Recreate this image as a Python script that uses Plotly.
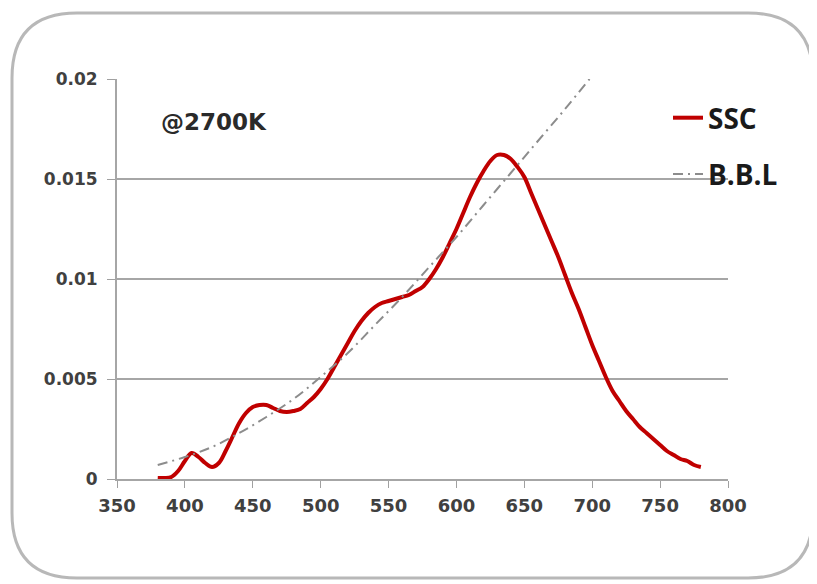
import plotly.graph_objects as go

# ---- data ----
ssc_wavelength = [380, 385, 390, 395, 400, 405, 410, 415, 420, 425, 430, 435, 440, 445,
                  450, 455, 460, 465, 470, 475, 480, 485, 490, 495, 500, 505, 510, 515,
                  520, 525, 530, 535, 540, 545, 550, 555, 560, 565, 570, 575, 580, 585,
                  590, 595, 600, 605, 610, 615, 620, 625, 630, 635, 640, 645, 650, 655,
                  660, 665, 670, 675, 680, 685, 690, 695, 700, 705, 710, 715, 720, 725,
                  730, 735, 740, 745, 750, 755, 760, 765, 770, 775, 780]
ssc_value = [0.00005, 0.00005, 0.0001, 0.0004, 0.0009, 0.0013, 0.0011, 0.0008, 0.0006,
             0.0008, 0.0014, 0.0021, 0.0028, 0.0033, 0.0036, 0.0037, 0.0037, 0.00355,
             0.0034, 0.00335, 0.0034, 0.0035, 0.0038, 0.0041, 0.0045, 0.0050, 0.0056,
             0.0062, 0.0068, 0.0074, 0.0079, 0.0083, 0.0086, 0.0088, 0.0089, 0.0090,
             0.0091, 0.0092, 0.0094, 0.0096, 0.0100, 0.0105, 0.0111, 0.0118, 0.0125,
             0.0133, 0.0141, 0.0148, 0.0154, 0.0159, 0.0162, 0.0162, 0.0160, 0.0156,
             0.0151, 0.0143, 0.0135, 0.0127, 0.0119, 0.0111, 0.0102, 0.0093, 0.0085,
             0.0076, 0.0067, 0.0059, 0.0051, 0.0044, 0.0039, 0.0034, 0.0030, 0.0026,
             0.0023, 0.0020, 0.0017, 0.0014, 0.0012, 0.0010, 0.0009, 0.0007, 0.0006]

bbl_wavelength = [380, 400, 420, 440, 460, 480, 500, 520, 540, 560, 580, 600, 620, 640,
                  660, 680, 698]
bbl_value = [0.0007, 0.0011, 0.0016, 0.0023, 0.0031, 0.0040, 0.0051, 0.0063, 0.0077,
             0.0091, 0.0106, 0.0121, 0.0137, 0.0153, 0.0169, 0.0185, 0.0200]

x_ticks = [350, 400, 450, 500, 550, 600, 650, 700, 750, 800]
y_ticks = [0, 0.005, 0.01, 0.015, 0.02]
y_tick_labels = ["0", "0.005", "0.01", "0.015", "0.02"]

# The page body has an 8px margin, so the figure is drawn 8px in from the corner.
OFF = 8
W, H = 817 - OFF, 584 - OFF
ML, MT = 117 - OFF, 79 - OFF
MR, MB = W - (728 - OFF), H - (479 - OFF)
PW, PH = W - ML - MR, H - MT - MB


def px_x(p):
    return (p - OFF - ML) / PW


def px_y(p):
    return (H - MB - (p - OFF)) / PH


fig = go.Figure()
fig.add_trace(go.Scatter(
    x=ssc_wavelength, y=ssc_value, name="SSC", mode="lines",
    line=dict(color="#c00000", width=4, shape="spline", smoothing=1.0),
    legendgroup="a",
))
fig.add_trace(go.Scatter(
    x=bbl_wavelength, y=bbl_value, name="B.B.L", mode="lines",
    line=dict(color="#8c8c8c", width=2, dash="10px,5px,2px,5px", shape="spline"),
    legendgroup="b",
))

# rounded frame around the whole chart (paper coordinates)
L, R, T, B = px_x(12), px_x(813), px_y(13), px_y(578)
rx, ry = 65 / PW, 65 / PH
path = (f"M {L+rx},{T} L {R-rx},{T} Q {R},{T} {R},{T-ry} L {R},{B+ry} "
        f"Q {R},{B} {R-rx},{B} L {L+rx},{B} Q {L},{B} {L},{B+ry} "
        f"L {L},{T-ry} Q {L},{T} {L+rx},{T} Z")

fig.update_layout(
    width=W, height=H,
    margin=dict(l=ML, r=MR, t=MT, b=MB),
    paper_bgcolor="white", plot_bgcolor="white",
    font=dict(family="DejaVu Sans", color="#404040"),
    shapes=[dict(type="path", path=path, xref="paper", yref="paper",
                 line=dict(color="#b8b8b8", width=3), layer="below")],
    annotations=[dict(text="<b>@2700K</b>", x=px_x(159), y=px_y(122),
                      xref="paper", yref="paper", xanchor="left", yanchor="middle",
                      showarrow=False, font=dict(size=23, color="#2a2a2a",
                                                 family="DejaVu Sans"))],
    legend=dict(x=px_x(668), y=px_y(93), xanchor="left", yanchor="top",
                bgcolor="rgba(255,255,255,0)", tracegroupgap=17,
                font=dict(family="Open Sans", size=28, color="#1a1a1a", weight="bold")),
    showlegend=True,
)
fig.update_xaxes(
    range=[350, 800], tickvals=x_ticks, ticks="outside", ticklen=7, tickcolor="#a0a0a0",
    showline=True, linecolor="#a6a6a6", linewidth=2, showgrid=False, zeroline=False,
    tickfont=dict(size=18, color="#404040", weight="bold"), ticklabelstandoff=2,
)
fig.update_yaxes(
    range=[0, 0.02], tickvals=y_ticks, ticktext=y_tick_labels, ticks="outside",
    ticklen=8, tickcolor="#a0a0a0", showline=True, linecolor="#a6a6a6", linewidth=2,
    showgrid=True, gridcolor="#a6a6a6", gridwidth=1.5, zeroline=False,
    tickfont=dict(size=17, color="#404040", weight="bold"), ticklabelstandoff=6,
)

fig.write_html("out.html")
